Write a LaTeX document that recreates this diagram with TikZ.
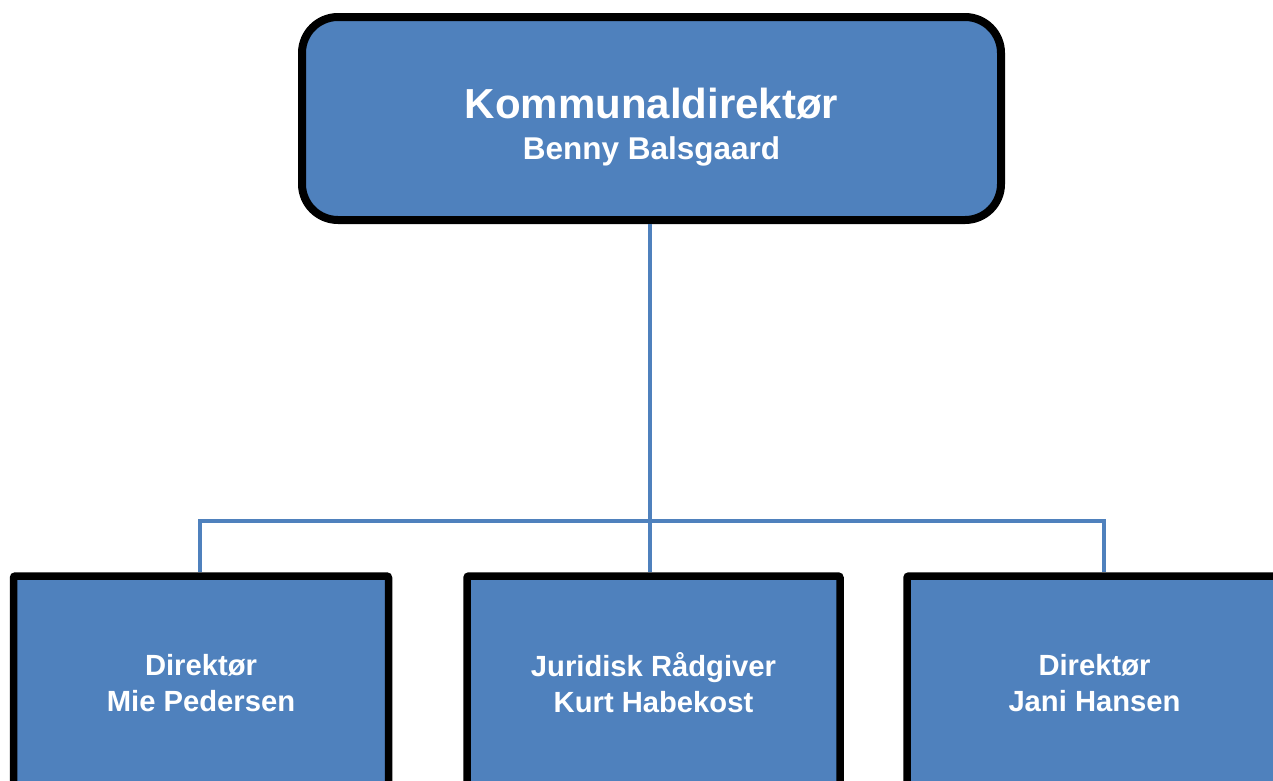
\documentclass[tikz,border=0pt]{standalone}
\usepackage{fontspec}
\setmainfont{Liberation Sans}
\definecolor{boxblue}{HTML}{4F81BD}
\begin{document}
\begin{tikzpicture}[x=1pt,y=-1pt,
  topbox/.style={draw=black,line width=8pt,fill=boxblue,rounded corners=36pt,
    minimum width=699pt,minimum height=203pt,inner sep=0pt,align=center,text=white,
    font=\bfseries\fontsize{31.5}{41}\selectfont},
  subbox/.style={draw=black,line width=7.5pt,fill=boxblue,rounded corners=2pt,
    minimum width=375pt,minimum height=214pt,inner sep=0pt,align=center,text=white,
    font=\bfseries\fontsize{29.2}{36}\selectfont},
  conn/.style={draw=boxblue,line width=4.5pt}]
\useasboundingbox (0,0) rectangle (1273,780);
\clip (0,0) rectangle (1273,780);
\node[topbox] (top) at (651.5,118.5) {{\fontsize{42}{41}\selectfont\rule{0pt}{47pt}Kommunaldirektør}\\Benny Balsgaard};
\node[subbox] (left) at (201,683) {Direktør\\Mie Pedersen};
\node[subbox,minimum width=373pt] (mid) at (653.5,683) {Juridisk Rådgiver\\Kurt Habekost};
\node[subbox] (right) at (1094.5,683) {Direktør\\Jani Hansen};
\coordinate (bar) at (650,521);
\coordinate (lt) at (200,572);
\coordinate (rt) at (1104,572);
\draw[conn] (top.south -| bar) -- (bar |- mid.north);
\draw[conn] (lt) -- (lt |- bar) -- (rt |- bar) -- (rt);
\end{tikzpicture}
\end{document}
